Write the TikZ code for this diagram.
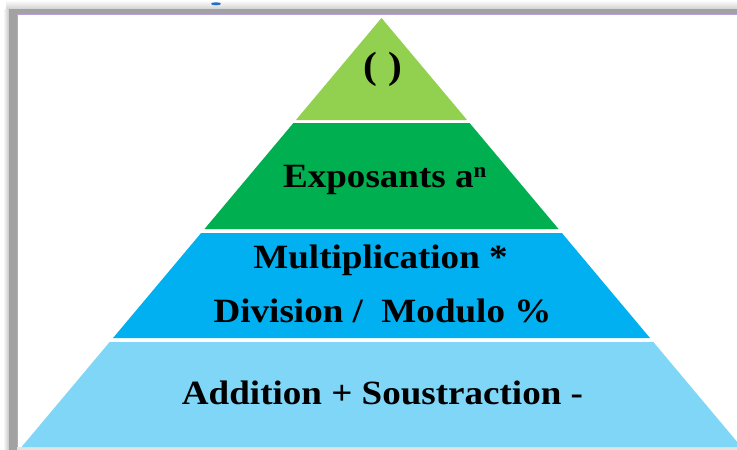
\documentclass[tikz,border=0pt]{standalone}
\usepackage{fontspec}
\setmainfont{Liberation Serif}
\newfontfamily\lblfont{Liberation Serif}[FakeStretch=1.09]
\usetikzlibrary{calc}

\definecolor{tierA}{HTML}{92D050}
\definecolor{tierB}{HTML}{00B050}
\definecolor{tierC}{HTML}{00B0F0}
\definecolor{tierD}{HTML}{80D6F6}
\definecolor{frameGray}{HTML}{A2A2A2}
\definecolor{frameLilac}{HTML}{B9A2DC}
\definecolor{markBlue}{HTML}{1F6FC8}

% apex of the pyramid and horizontal run per unit of height
\def\apx{381.5}
\def\apy{18}
\def\slope{0.839}

\tikzset{
  label text/.style={anchor=base, inner sep=0pt, font=\lblfont\fontsize{34}{40}\selectfont\bfseries, text=black},
}

% one trapezoidal band between heights #1 and #2
\newcommand{\band}[3]{%
  \fill[#3] ({\apx-\slope*(#1-\apy)},#1) -- ({\apx+\slope*(#1-\apy)},#1)
        -- ({\apx+\slope*(#2-\apy)},#2) -- ({\apx-\slope*(#2-\apy)},#2) -- cycle;}

\begin{document}
\begin{tikzpicture}[x=1pt,y=-1pt]
\useasboundingbox (0,0) rectangle (737,450);
\fill[white] (0,0) rectangle (737,450);

% soft shadow of the frame
\shade[top color=white, bottom color=gray!35] (6,0) rectangle (737,9);
\shade[left color=white, right color=gray!45] (3,9) rectangle (9,450);

% frame bars
\fill[frameGray] (9,9) rectangle (737,14);
\fill[frameGray] (9,9) rectangle (17,450);
\draw[frameLilac, line width=1.2pt] (17.6,450) -- (17.6,14.6) -- (737,14.6);

% small blue mark above the frame
\fill[markBlue] (216,3.8) ellipse (5 and 1.5);

% bottom edge
\fill[gray!22] (17,447) rectangle (737,450);

% pyramid bands
\fill[tierA] (\apx,\apy) -- ({\apx+\slope*(120-\apy)},120) -- ({\apx-\slope*(120-\apy)},120) -- cycle;
\band{123}{229}{tierB}
\band{233}{338}{tierC}
\band{342}{447}{tierD}

% labels
\node[label text, font=\lblfont\fontsize{38}{40}\selectfont\bfseries] (paren) at (383,78) {(\hspace{12pt})};
\node[label text] (expo) at (385,187) {Exposants a\textsuperscript{\fontsize{21}{21}\selectfont n}};
\node[label text] (mult) at (380.5,268) {Multiplication *};
\node[label text] (divi) at (382.5,322) {Division /\ \ Modulo \%};
\node[label text] (addi) at (382.5,404) {Addition + Soustraction -};
\end{tikzpicture}
\end{document}
